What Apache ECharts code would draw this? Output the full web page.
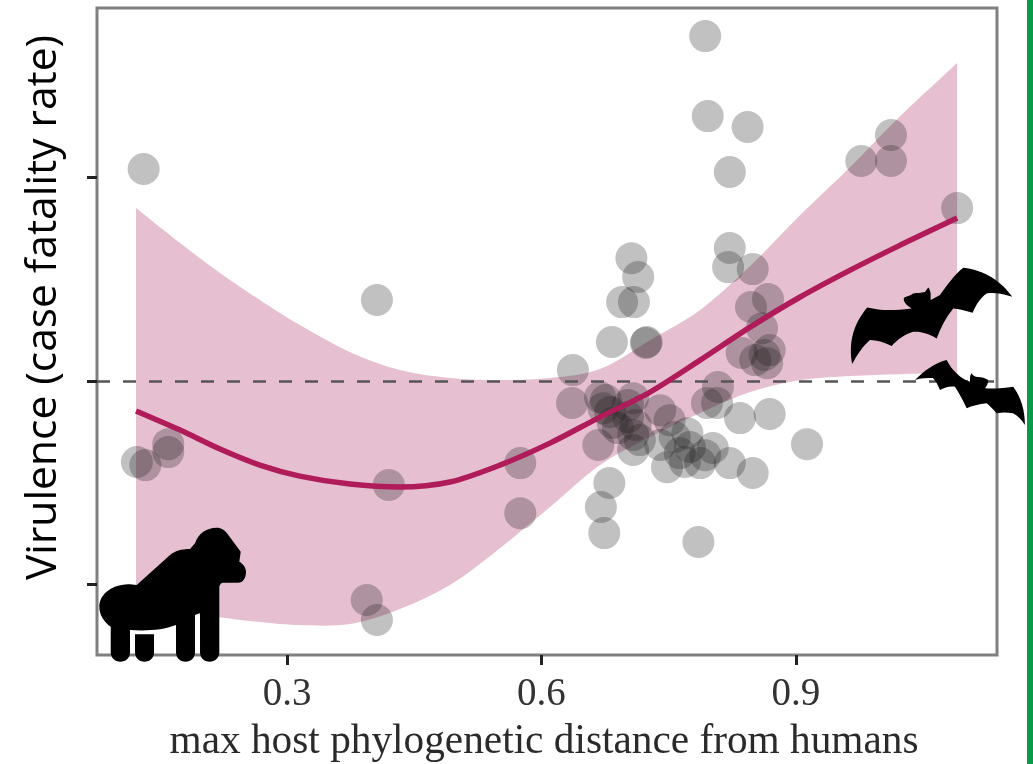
<!DOCTYPE html>
<html>
<head>
<meta charset="utf-8">
<style>html,body{margin:0;padding:0;background:#fff}#c{width:1033px;height:764px}</style>
<script src="https://cdn.jsdelivr.net/npm/echarts@6/dist/echarts.min.js"></script>
</head>
<body>
<div id="c"></div>
<script>
const xTicks = [0.3, 0.6, 0.9];
const yTicks = [-1, 0, 1];
const xTitle = 'max host phylogenetic distance from humans';
const yTitle = 'Virulence (case fatality rate)';

const pointX = [0.793,0.796,0.843,0.131,0.822,1.012,0.977,1.012,1.090,0.406,0.706,0.714,0.695,0.709,0.683,0.724,0.822,0.820,0.849,0.867,0.847,0.860,0.836,0.869,0.866,0.852,0.637,0.636,0.669,0.673,0.684,0.708,0.702,0.708,0.667,0.708,0.740,0.751,0.808,0.795,0.807,0.834,0.869,0.913,0.740,0.748,0.772,0.763,0.787,0.802,0.822,0.849,0.680,0.670,0.674,0.785,0.575,0.575,0.123,0.133,0.160,0.160,0.420,0.394,0.406,0.681,0.690,0.702,0.711,0.676,0.716,0.775,0.793,0.757,0.769,0.723,0.863];
const pointY = [1.695,1.302,1.248,1.042,1.027,1.209,1.081,1.081,0.850,0.398,0.604,0.511,0.388,0.388,0.192,0.192,0.654,0.560,0.550,0.403,0.364,0.260,0.138,0.152,0.088,0.103,0.054,-0.108,-0.079,-0.133,-0.206,-0.084,-0.177,-0.265,-0.314,-0.339,-0.143,-0.192,-0.029,-0.108,-0.108,-0.182,-0.162,-0.310,-0.314,-0.423,-0.256,-0.354,-0.403,-0.329,-0.403,-0.452,-0.501,-0.619,-0.747,-0.791,-0.403,-0.649,-0.398,-0.413,-0.310,-0.349,-0.511,-1.076,-1.174,-0.152,-0.231,-0.118,-0.216,-0.093,-0.290,-0.324,-0.364,-0.275,-0.398,0.187,0.128];

const fitX = [0.122,0.174,0.221,0.268,0.315,0.374,0.433,0.492,0.551,0.610,0.669,0.728,0.787,0.846,0.905,0.964,1.023,1.090];
const fitMid = [-0.147,-0.241,-0.334,-0.413,-0.467,-0.506,-0.521,-0.496,-0.413,-0.305,-0.177,-0.054,0.103,0.265,0.413,0.545,0.668,0.801];
const fitUpper = [0.850,0.678,0.531,0.398,0.275,0.143,0.054,0.015,0.005,0.015,0.059,0.201,0.349,0.565,0.816,1.052,1.302,1.563];
const fitLower = [-1.076,-1.130,-1.160,-1.184,-1.199,-1.194,-1.120,-1.002,-0.821,-0.619,-0.413,-0.275,-0.157,-0.054,0.005,0.025,0.034,0.039];

const gorillaPath = 'path://M216.7 527.7C206 527.7 198 534 195 543.3L190 549C181 549 175 551 170 555L136.7 585C130 584 126 584 121.7 585C109 587 99.3 596 99.3 606.7C99.3 615 104 622 110.7 626.7L110.7 652C110.7 658 115 661.7 120.3 661.7C126 661.7 130 658 130 652L130 630C148 631 163 630 176 625L176 652C176 658 180 661.7 185.5 661.7C191 661.7 195 658 195 652L195 615L200 613L200 652C200 658 204 661.7 209.7 661.7C215 661.7 219.3 658 219.3 652L219.3 586.7C220 584 221 582.7 223.3 582.7L238 582.7C243 582.7 246 578 246 571.7C246 567 242 563 239.3 561.7L240.7 551.7L228.3 535C225 530 221 527.7 216.7 527.7ZM135 634.3L154 634.3L154 652C154 658 150 661.7 144.5 661.7C139 661.7 135 658 135 652Z';
const bigBatPath = 'path://M852.3 364C848 340 855 322 867.3 307.3C880 310 890 311 911.7 308.3C906 305 903 301 904 297.7C907 296 910 296 913.3 293.3C917 293 921 293 925 292L928.3 287.3C931 290 931 295 930.7 300C934 298 937 297 940 295C948 284 955 274 963.3 267.7C985 270 1002 282 1012.3 296.7C1003 294 995 292 986.7 293.3C980 298 976 305 972.7 312.7C965 310 959 309 953.3 308.3C946 317 941 327 936.7 338.3C928 333 920 331 913.3 331.7C905 334 898 339 891.7 346C884 342 877 340 870 340C863 346 857 355 852.3 364Z';
const smallBatPath = 'path://M915 380C925 370 935 363 946.7 360C950 366 953 370 956.7 373.3C960 377 965 380 970 381.7C970 378 970 375 971.7 373.3C973 376 975 377 978 377C982 377 985 378 988.3 380C988 384 987 386 985 388.3C995 389 1004 388 1013.3 386.7C1021 397 1025 410 1025 425C1021 419 1017 415 1013 413.3C1007 412 1002 412 996.7 413.3C993 409 990 406 986.7 403.3C979 404 972 406 966.7 408.3C963 400 959 393 955 386.7C949 386 944 388 940 390C938 385 936 381 933 378C927 378 921 378 915 380Z';

const silhouette = (name, path, pos, size) => ({
  name, type: 'scatter', symbol: path, symbolSize: size, clip: false, silent: true, z: 10,
  itemStyle: {color: '#000', opacity: 1},
  data: [pos]
});

// Catmull-Rom segments through already projected points
function curveThrough(pts) {
  let d = '';
  for (let i = 0; i < pts.length - 1; i++) {
    const p0 = pts[Math.max(i - 1, 0)], p1 = pts[i], p2 = pts[i + 1], p3 = pts[Math.min(i + 2, pts.length - 1)];
    d += 'C' + (p1[0] + (p2[0] - p0[0]) / 6) + ' ' + (p1[1] + (p2[1] - p0[1]) / 6) + ' ' +
         (p2[0] - (p3[0] - p1[0]) / 6) + ' ' + (p2[1] - (p3[1] - p1[1]) / 6) + ' ' + p2[0] + ' ' + p2[1];
  }
  return d;
}

const chart = echarts.init(document.getElementById('c'), null, {renderer: 'canvas'});
chart.setOption({
  animation: false,
  backgroundColor: '#ffffff',
  grid: {left: 97, right: 36, top: 8, bottom: 109, outerBoundsMode: 'none', show: true, borderColor: '#808080', borderWidth: 3, backgroundColor: 'transparent'},
  xAxis: {
    type: 'value', min: 0.076, max: 1.137,
    name: xTitle, nameLocation: 'middle', nameGap: 67,
    nameTextStyle: {fontFamily: 'Liberation Serif', fontSize: 41.3, color: '#2a2a2a', padding: [0, 6, 0, 0]},
    axisLine: {show: false, onZero: false},
    splitLine: {show: false},
    axisTick: {show: true, length: 10, customValues: xTicks, lineStyle: {color: '#222', width: 3}},
    axisLabel: {show: true, customValues: xTicks, margin: 20, fontFamily: 'Liberation Serif', fontSize: 39, color: '#333', formatter: v => v.toFixed(1)}
  },
  yAxis: {
    type: 'value', min: -1.346, max: 1.833,
    name: yTitle, nameLocation: 'middle', nameGap: 32, nameRotate: 90,
    nameTextStyle: {fontFamily: 'Open Sans', fontSize: 42.5, color: '#000', padding: [0, 0, 0, 48]},
    axisLine: {show: false, onZero: false},
    splitLine: {show: false},
    axisTick: {show: true, length: 10, customValues: yTicks, lineStyle: {color: '#222', width: 3}},
    axisLabel: {show: false}
  },
  series: [
    {
      name: 'band', type: 'custom', silent: true, z: 1,
      data: [0],
      renderItem: (params, api) => {
        const up = fitX.map((x, i) => api.coord([x, fitUpper[i]]));
        const lo = fitX.map((x, i) => api.coord([x, fitLower[i]])).reverse();
        const pathData = 'M' + up[0].join(' ') + curveThrough(up) + 'L' + lo[0].join(' ') + curveThrough(lo) + 'Z';
        return {type: 'path', shape: {pathData}, style: {fill: '#e6bfd0'}};
      }
    },
    {
      name: 'points', type: 'scatter', symbol: 'circle', symbolSize: 32, silent: true, z: 2,
      itemStyle: {color: 'rgba(30,30,30,0.34)'},
      data: pointX.map((x, i) => [x, pointY[i]]),
      markLine: {
        silent: true, symbol: 'none', label: {show: false},
        lineStyle: {color: '#555', type: [13, 13], width: 2.5},
        data: [{yAxis: 0}]
      }
    },
    {
      name: 'fit', type: 'line', smooth: 0.3, symbol: 'none', silent: true, z: 5,
      lineStyle: {color: '#b01c5a', width: 5.5},
      data: fitX.map((x, i) => [x, fitMid[i]])
    },
    silhouette('gorilla', gorillaPath, [0.1652, -1.050], [146.7, 134]),
    silhouette('bat large', bigBatPath, [1.0599, 0.320], [161.3, 96.3]),
    silhouette('bat small', smallBatPath, [1.1051, -0.0565], [110, 65])
  ],
  graphic: [
    {type: 'rect', z: 100, shape: {x: 1027, y: 0, width: 6, height: 764}, style: {fill: '#0a9a4a'}}
  ]
});
</script>
</body>
</html>
